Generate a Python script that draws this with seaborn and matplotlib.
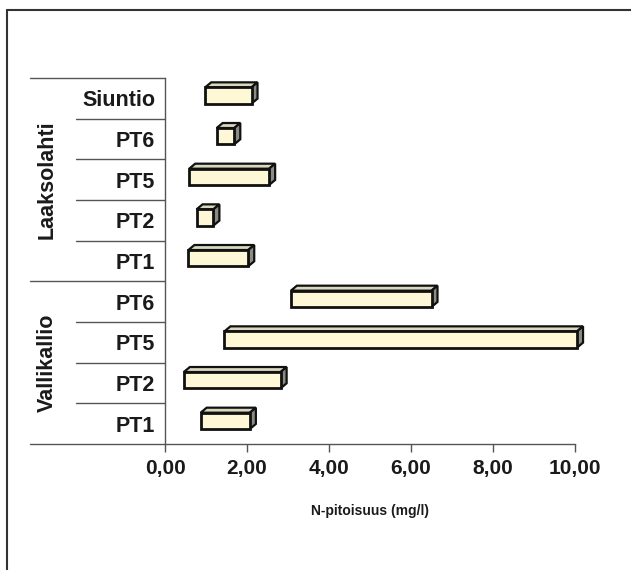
import matplotlib
matplotlib.use("Agg")
import matplotlib.pyplot as plt
from matplotlib.lines import Line2D
from matplotlib.patches import Polygon
import numpy as np
import pandas as pd
import seaborn as sns

# Nitrogen concentration ranges (min..max) per sampling site
groups = ["Laaksolahti"] * 5 + ["Vallikallio"] * 4
sites = ["Siuntio", "PT6", "PT5", "PT2", "PT1", "PT6", "PT5", "PT2", "PT1"]
n_min = [0.98, 1.26, 0.59, 0.77, 0.57, 3.07, 1.45, 0.46, 0.87]
n_max = [2.11, 1.69, 2.54, 1.18, 2.03, 6.50, 10.05, 2.82, 2.07]
x_ticks = [0, 2, 4, 6, 8, 10]
x_tick_labels = ["0,00", "2,00", "4,00", "6,00", "8,00", "10,00"]
x_title = "N-pitoisuus (mg/l)"

df = pd.DataFrame({"group": groups, "site": sites, "lo": n_min, "hi": n_max})
df["key"] = df["group"] + " " + df["site"]
df["span"] = df["hi"] - df["lo"]

sns.set_theme(style="white")
plt.rcParams["font.family"] = ["Liberation Sans", "DejaVu Sans"]

FRONT = "#fff8d6"
TOP = "#dcd8bf"
SIDE = "#8c8c84"
LINE = "#555555"
TEXT = "#1a1a1a"
W, H = 631, 570

fig = plt.figure(figsize=(W / 100, H / 100), dpi=100)
ax = fig.add_axes([165 / W, 1 - 444 / H, 410 / W, 366 / H])

sns.barplot(data=df, x="span", y="key", order=list(df["key"]), orient="h",
            width=0.40, color=FRONT, saturation=1, edgecolor="#111111",
            linewidth=2.0, errorbar=None, ax=ax)

ax.set_xlim(0, 10)
ax.set_ylim(8.5, -0.5)

# floating bars: start each bar at its minimum
bars = list(ax.patches)
for bar, lo in zip(bars, df["lo"]):
    bar.set_x(lo)
    bar.set_y(bar.get_y() - 0.07)
    bar.set_zorder(4)
    bar.set_clip_on(False)

# 3D top and side faces
dx, dy = 6.0, 5.0
inv = ax.transData.inverted()
for bar in bars:
    x0, y0 = bar.get_x(), bar.get_y()
    x1, y1 = x0 + bar.get_width(), y0 + bar.get_height()
    tl, tr, br = ax.transData.transform([(x0, y0), (x1, y0), (x1, y1)])
    off = np.array([dx, dy])
    top = inv.transform([tl, tr, tr + off, tl + off])
    side = inv.transform([tr, br, br + off, tr + off])
    for pts, fc in ((top, TOP), (side, SIDE)):
        ax.add_patch(Polygon(pts, closed=True, facecolor=fc, edgecolor="#111111",
                             linewidth=1.6, zorder=3, joinstyle="miter",
                             clip_on=False))

# axes styling
for s in ["top", "right"]:
    ax.spines[s].set_visible(False)
for s in ["left", "bottom"]:
    ax.spines[s].set_color(LINE)
    ax.spines[s].set_linewidth(1.0)

ax.set_xticks(x_ticks)
ax.set_xticklabels(x_tick_labels, fontsize=15, fontweight="bold", color=TEXT)
ax.tick_params(axis="x", direction="out", length=5.5, width=1.0,
               color=LINE, pad=5.5, bottom=True)
ax.set_yticks(range(len(sites)))
ax.set_yticklabels(sites, fontsize=15.5, fontweight="bold", color=TEXT)
ax.tick_params(axis="y", length=0, pad=7.2)
ax.set_ylabel("")
ax.set_xlabel(x_title, fontsize=10, fontweight="bold", color=TEXT)
ax.xaxis.label.set_va("center")
ax.xaxis.set_label_coords(0.5, (444 - 510.7) / 366)

# category table lines
ytr = ax.get_yaxis_transform()
outer = (30 - 165) / 410
inner = (76 - 165) / 410
group_edges = {-0.5, 4.5, 8.5}
for b in np.arange(-0.5, 9.0, 1.0):
    x_start = outer if b in group_edges else inner
    ax.plot([x_start, 0], [b, b], transform=ytr, color=LINE, lw=1.0,
            clip_on=False, zorder=1)

# group labels
for name in ["Laaksolahti", "Vallikallio"]:
    idx = df.index[df["group"] == name]
    ax.text((47 - 165) / 410, (idx.min() + idx.max()) / 2, name, transform=ytr,
            rotation=90, ha="center", va="center", fontsize=15.5,
            fontweight="bold", color=TEXT)

# outer frame
fig.add_artist(Line2D([7 / W, 1], [1 - 10 / H, 1 - 10 / H],
                      transform=fig.transFigure, color="#333333", lw=1.5))
fig.add_artist(Line2D([7 / W, 7 / W], [1 - 10 / H, 0],
                      transform=fig.transFigure, color="#333333", lw=1.5))

fig.savefig("out.png", dpi=100, facecolor="white")
